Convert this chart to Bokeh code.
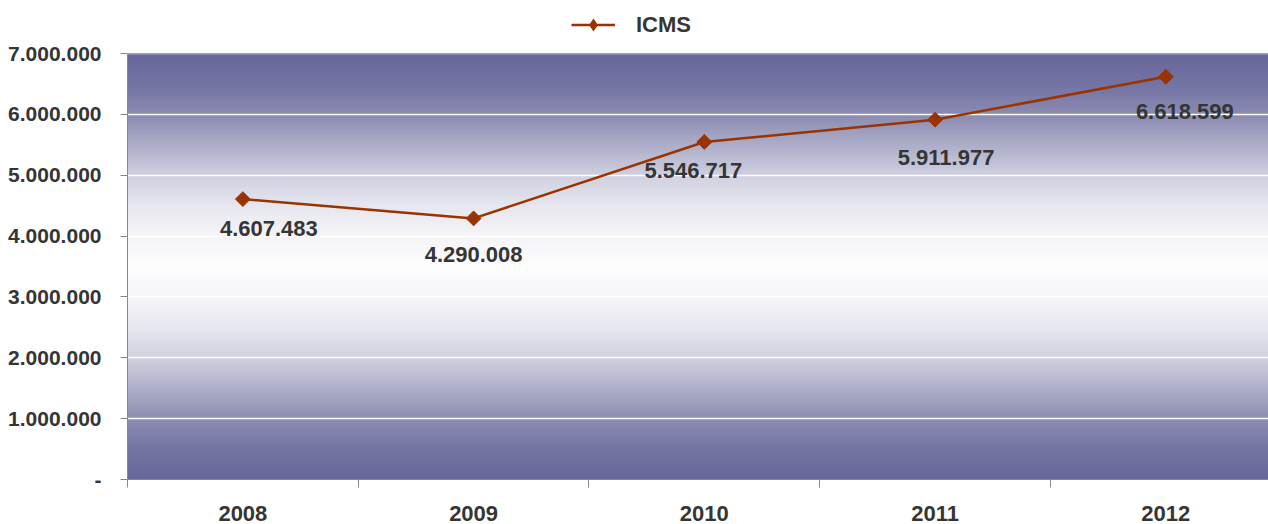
import numpy as np
from bokeh.plotting import figure
from bokeh.models import (Range1d, FixedTicker, BoxAnnotation, Legend, LegendItem,
                          ColumnDataSource, Span)
from bokeh.core.properties import value
from bokeh.embed import file_html
from bokeh.resources import INLINE

# ---- data ----
years = ["2008", "2009", "2010", "2011", "2012"]
icms = [4607483, 4290008, 5546717, 5911977, 6618599]
y_ticks = [0, 1000000, 2000000, 3000000, 4000000, 5000000, 6000000, 7000000]
y_tick_labels = ["-", "1.000.000", "2.000.000", "3.000.000", "4.000.000",
                 "5.000.000", "6.000.000", "7.000.000"]
series_name = "ICMS"

# ---- label placement (screen px offsets, style only) ----
label_dx = [26, 0, -11, 11, 19]
label_dy = [29, 36, 29, 38, 35]

FONT = "Liberation Sans"
TXT = "#353535"
LINE = "#993300"

W, H = 1268, 524
LEFT, BOTTOM = 127, 45
PLOT_TOP = 53          # top of the painted plot area (px from top)

def fmt(v):
    return f"{v:,}".replace(",", ".")

xs = [i + 0.5 for i in range(len(years))]
src = ColumnDataSource(dict(x=xs, y=icms, lbl=[fmt(v) for v in icms],
                            dx=label_dx, dy=label_dy))

y0, y1 = y_ticks[0], y_ticks[-1]
frame_h = H - BOTTOM
area_h = frame_h - PLOT_TOP
y_view_end = y0 + (y1 - y0) * frame_h / area_h

p = figure(width=W, height=H, x_range=Range1d(0, 4.945),
           y_range=Range1d(y0, y_view_end),
           output_backend="svg", toolbar_location=None,
           min_border_left=LEFT, min_border_right=0, min_border_top=0,
           min_border_bottom=BOTTOM)
p.background_fill_color = "white"
p.border_fill_color = "white"
p.outline_line_color = None

# background gradient (dark at edges, white in the middle)
n = 142
edges = np.linspace(y0, y1, n + 1)
dark = np.array([102, 102, 154])
tpts = [0.0, 0.143, 0.286, 0.429, 0.571, 0.714, 0.857, 1.0]
mpts = [0.01, 0.07, 0.16, 0.31, 0.53, 0.76, 0.91, 1.0]
mid = (y0 + y1) / 2
half = (y1 - y0) / 2
pad = (y1 - y0) * 0.002
for i in range(n):
    c = (edges[i] + edges[i + 1]) / 2
    t = abs(c - mid) / half
    m = np.interp(t, tpts, mpts)
    rgb = np.round(255 - (255 - dark) * m).astype(int)
    col = "#%02x%02x%02x" % tuple(rgb)
    p.add_layout(BoxAnnotation(bottom=max(y0, edges[i] - pad),
                               top=min(y1, edges[i + 1] + pad),
                               fill_color=col, fill_alpha=1.0, line_color=None,
                               level="image"))

# grid
p.xgrid.grid_line_color = None
p.ygrid.ticker = FixedTicker(ticks=y_ticks)
p.ygrid.grid_line_color = "white"
p.ygrid.grid_line_width = 1.5

# thin border line along the top of the plot area
p.add_layout(Span(location=y1, dimension="width", line_color="#9a9abd",
                  line_width=1.2, level="underlay"))

line_r = p.line("x", "y", source=src, line_color=LINE, line_width=2.5)
mark_r = p.scatter("x", "y", source=src, marker="square", angle=np.pi / 4,
                   size=10.5, fill_color=LINE, line_color=LINE)
# legend-only diamond (zero size in the plot, legend sizes it itself)
leg_mark = p.scatter("x", "y", source=src, marker="diamond", size=0,
                     fill_color=LINE, line_color=None)

p.text("x", "y", text="lbl", source=src, x_offset="dx", y_offset="dy",
       text_font=value(FONT), text_font_style="bold", text_font_size="22px",
       text_color=TXT, text_align="center", text_baseline="middle")

# y axis
ya = p.yaxis[0]
ya.ticker = FixedTicker(ticks=y_ticks)
ya.bounds = (y0, y1)
ya.major_label_overrides = {t: l for t, l in zip(y_ticks, y_tick_labels)}
ya.major_label_text_font = FONT
ya.major_label_text_font_style = "bold"
ya.major_label_text_font_size = "21px"
ya.major_label_text_color = TXT
ya.major_tick_out = 7
ya.major_tick_in = 0
ya.minor_tick_line_color = None
ya.major_tick_line_color = "#888888"
ya.axis_line_color = "#888888"
ya.major_label_standoff = 19

# x axis
xa = p.xaxis[0]
xa.ticker = FixedTicker(ticks=xs, minor_ticks=list(range(len(years))))
xa.major_label_overrides = {x: y for x, y in zip(xs, years)}
xa.major_label_text_font = FONT
xa.major_label_text_font_style = "bold"
xa.major_label_text_font_size = "22px"
xa.major_label_text_color = TXT
xa.major_tick_line_color = None
xa.major_tick_out = 0
xa.major_tick_in = 0
xa.minor_tick_out = 8
xa.minor_tick_in = 0
xa.minor_tick_line_color = "#888888"
xa.axis_line_color = "#888888"
xa.major_label_standoff = 18

legend = Legend(items=[LegendItem(label=series_name, renderers=[line_r, leg_mark])],
                location=(444, frame_h - 41), orientation="horizontal",
                glyph_width=44, glyph_height=33, label_standoff=21,
                label_text_font=FONT, label_text_font_style="bold",
                label_text_font_size="22px", label_text_color=TXT,
                border_line_color=None, background_fill_alpha=0,
                padding=0, margin=0)
p.add_layout(legend)

open("out.html", "w").write(file_html(p, INLINE))
